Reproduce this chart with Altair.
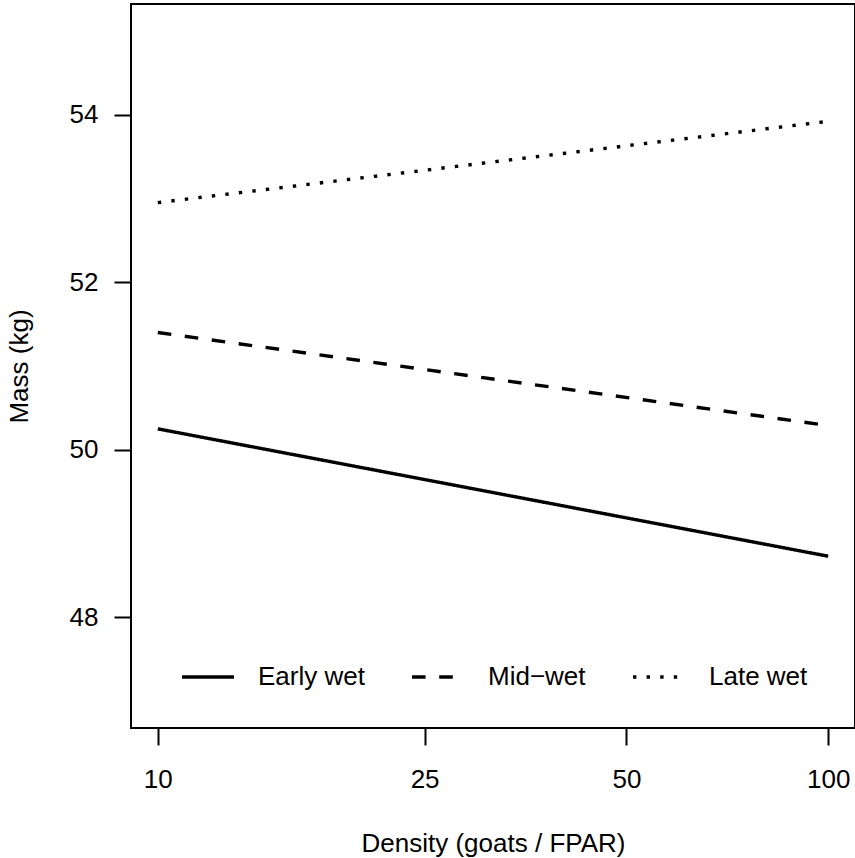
import altair as alt
import pandas as pd

# Data
densities = [10, 100]
early_wet = [50.25, 48.73]
mid_wet = [51.40, 50.29]
late_wet = [52.95, 53.92]
seasons = ["Early wet", "Mid\u2212wet", "Late wet"]
x_ticks = [10, 25, 50, 100]
y_ticks = [48, 50, 52, 54]

rows = []
for name, vals in zip(seasons, [early_wet, mid_wet, late_wet]):
    for d, v in zip(densities, vals):
        rows.append({"density": d, "mass": v, "season": name})
df = pd.DataFrame(rows)

FONT = "Liberation Sans"

chart = alt.Chart(df).mark_line(strokeWidth=3.4, color="black", strokeCap="butt").encode(
    x=alt.X(
        "density:Q",
        scale=alt.Scale(type="log", domain=[9.120, 109.65], nice=False, zero=False),
        axis=alt.Axis(
            values=x_ticks, title="Density (goats / FPAR)", format="d",
            labelBaseline="alphabetic", labelPadding=42, tickSize=17,
            titleY=123, titleBaseline="alphabetic",
        ),
    ),
    y=alt.Y(
        "mass:Q",
        scale=alt.Scale(domain=[46.68, 55.32], nice=False, zero=False),
        axis=alt.Axis(
            values=y_ticks, title="Mass (kg)", labelAngle=0, labelAlign="right",
            labelBaseline="middle", labelPadding=16, tickSize=17,
            titleAngle=270, titleX=-103.5, titleY=362, titleAlign="center",
            titleBaseline="alphabetic",
        ),
    ),
    strokeDash=alt.StrokeDash(
        "season:N",
        scale=alt.Scale(domain=seasons, range=[[1, 0], [13.6, 13.6], [3.4, 10.2]]),
        legend=alt.Legend(
            orient="none", legendX=49, legendY=645, direction="horizontal",
            columns=3, title=None, symbolType="stroke", symbolSize=2704,
            symbolStrokeWidth=3.4, symbolStrokeColor="black",
            labelFont=FONT, labelFontSize=26, labelColor="black",
            labelOffset=22, columnPadding=40,
        ),
    ),
).properties(
    width=724, height=724,
    autosize=alt.AutoSizeParams(type="none"),
    padding={"left": 131, "top": 4, "right": 0, "bottom": 130},
    background="white",
).configure_view(
    stroke="black", strokeWidth=2
).configure_axis(
    labelFont=FONT, labelFontSize=26, labelColor="black",
    titleFont=FONT, titleFontSize=26, titleColor="black", titleFontWeight="normal",
    tickColor="black", tickWidth=2, domain=False, grid=False,
)

chart.save("out.html", embed_options={"renderer": "svg", "actions": False})
